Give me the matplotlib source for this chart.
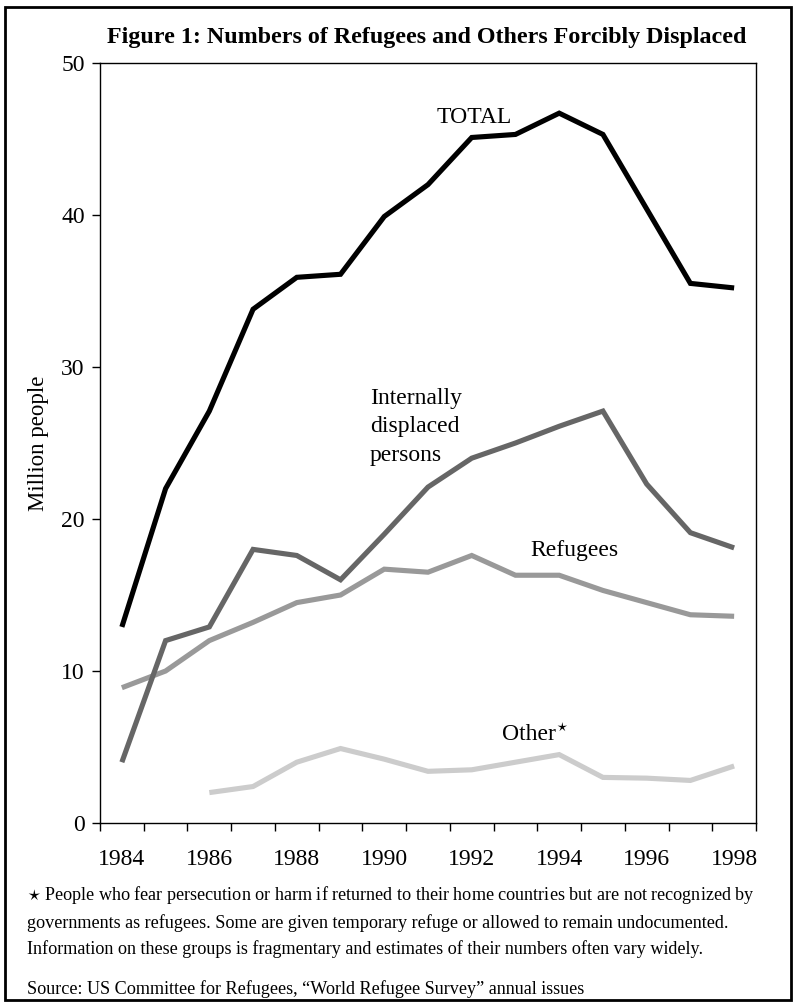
import matplotlib
matplotlib.use('Agg')
import matplotlib.pyplot as plt
from matplotlib.patches import Rectangle
import numpy as np

plt.rcParams['font.family'] = ['Liberation Serif', 'DejaVu Serif']
plt.rcParams['mathtext.fontset'] = 'dejavuserif'

# data (million people)
years = [1984, 1985, 1986, 1987, 1988, 1989, 1990, 1991,
         1992, 1993, 1994, 1995, 1996, 1997, 1998]
total = [12.9, 22.0, 27.1, 33.8, 35.9, 36.1, 39.9, 42.0,
         45.1, 45.3, 46.7, 45.3, 40.4, 35.5, 35.2]
idp = [4.0, 12.0, 12.9, 18.0, 17.6, 16.0, 19.0, 22.1,
       24.0, 25.0, 26.1, 27.1, 22.3, 19.1, 18.1]
refugees = [8.9, 10.0, 12.0, 13.2, 14.5, 15.0, 16.7, 16.5,
            17.6, 16.3, 16.3, 15.3, 14.5, 13.7, 13.6]
other = [np.nan, np.nan, 2.0, 2.4, 4.0, 4.9, 4.2, 3.4,
         3.5, 4.0, 4.5, 3.0, 2.95, 2.8, 3.75]
year_labels = ['1984', '1986', '1988', '1990', '1992', '1994', '1996', '1998']

W, H = 797, 1007
fig = plt.figure(figsize=(W / 100, H / 100), dpi=100)

# frame around the whole figure
fig.patches.append(Rectangle((5 / W, 7 / H), 786 / W, 993 / H, transform=fig.transFigure,
                             fill=False, edgecolor='black', linewidth=2))

ax = fig.add_axes([100 / W, 184 / H, 656 / W, 760 / H])
x = np.arange(len(years))
lw = 3.7
kw = dict(linewidth=lw, solid_joinstyle='miter', solid_capstyle='butt')
ax.plot(x, other, color='#cccccc', **kw)
ax.plot(x, refugees, color='#999999', **kw)
ax.plot(x, idp, color='#666666', **kw)
ax.plot(x, total, color='#000000', **kw)

ax.set_xlim(-0.5, len(years) - 0.5)
ax.set_ylim(0, 50)
for s in ax.spines.values():
    s.set_linewidth(1)

ax.set_yticks(np.arange(0, 51, 10))
ax.tick_params(axis='y', direction='out', length=6, width=1, pad=5, labelsize=17)

# ticks between categories, labels centred on every other year
ax.set_xticks(np.arange(-0.5, len(years), 1.0))
ax.set_xticklabels([])
ax.tick_params(axis='x', which='major', direction='out', length=6, width=1)
ax.set_xticks(x[::2], minor=True)
ax.set_xticklabels(year_labels, minor=True)
ax.tick_params(axis='x', which='minor', length=0, pad=19, labelsize=17)

ax.set_ylabel('Million people', fontsize=16.5)
ax.yaxis.set_label_coords(-51 / 656, 0.5)

ax.text(7.2, 46.4, 'TOTAL', fontsize=17, ha='left', va='center')
ax.text(5.67, 28.6, 'Internally\ndisplaced\npersons', fontsize=17, ha='left', va='top',
        linespacing=1.45)
ax.text(9.33, 17.9, 'Refugees', fontsize=17, ha='left', va='center')
t_other = ax.text(8.69, 5.8, 'Other', fontsize=17, ha='left', va='center')
ax.annotate(r'$\star$', xy=(1, 1), xycoords=t_other, xytext=(0.5, 2.5),
            textcoords='offset points', fontsize=11, ha='left', va='top')

fig.text(427 / W, 1 - 37 / H, 'Figure 1: Numbers of Refugees and Others Forcibly Displaced',
         fontsize=17.3, fontweight='bold', ha='center', va='center')

notes = ('$\\star$ People who fear persecution or harm if returned to their home countries but are not recognized by\n'
         'governments as refugees. Some are given temporary refuge or allowed to remain undocumented.\n'
         'Information on these groups is fragmentary and estimates of their numbers often vary widely.')
fig.text(27 / W, 1 - 884 / H, notes, fontsize=13.1, ha='left', va='top', linespacing=1.6)
fig.text(27 / W, 1 - 989 / H, 'Source: US Committee for Refugees, \u201cWorld Refugee Survey\u201d annual issues',
         fontsize=13.1, ha='left', va='center')

fig.savefig('out.png', dpi=100)
